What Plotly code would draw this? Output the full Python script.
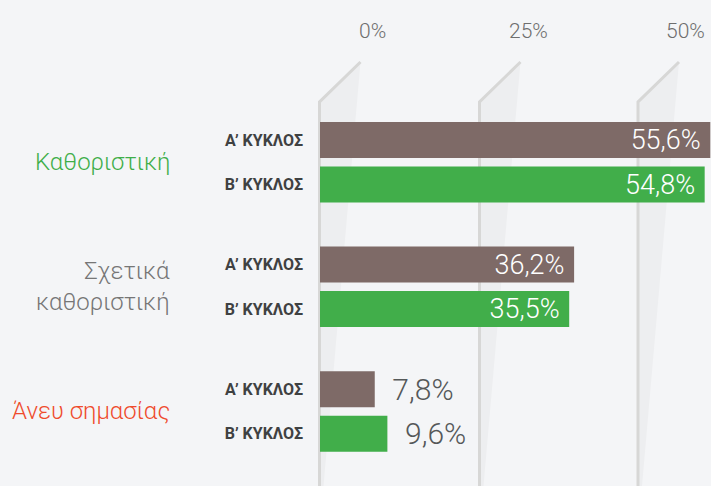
import plotly.graph_objects as go

# data
groups = ["Καθοριστική", "Σχετικά<br>καθοριστική", "Άνευ σημασίας"]
group_colors = ["#3fae49", "#767676", "#ef4b2c"]
rounds = ["Α’ ΚΥΚΛΟΣ", "Β’ ΚΥΚΛΟΣ"]
round_colors = ["#7e6a67", "#41ae4a"]
values_a = [55.6, 36.2, 7.8]
values_b = [54.8, 35.5, 9.6]
tick_labels = ["0%", "25%", "50%"]

W, H = 711, 486
LEFT = 320
GAP = 2.8          # distance between group starts, in row units
PX_PER_ROW = 44.5
y_top = -140 / PX_PER_ROW
y_range = [y_top + H / PX_PER_ROW, y_top]


def px(x):
    return (x - LEFT) / (W - LEFT)


def py(y):
    return 1 - y / H


def fmt(v):
    return "{:.1f}%".format(v).replace(".", ",")


fig = go.Figure()

all_pos, all_ticktext = [], []
for k, (name, vals, col) in enumerate(zip(rounds, [values_a, values_b], round_colors)):
    pos = [g * GAP + k for g in range(len(groups))]
    all_pos += pos
    all_ticktext += ["<b>" + name + "</b>"] * len(pos)
    inside = [v > 20 for v in vals]
    fig.add_trace(go.Bar(
        y=pos, x=vals, orientation="h", width=0.81,
        marker=dict(color=col, line_width=0),
        text=[fmt(v) + "\u00a0" if i else "\u00a0\u00a0" + fmt(v) for v, i in zip(vals, inside)],
        textposition=["inside" if i else "outside" for i in inside],
        insidetextanchor="end",
        insidetextfont=dict(family="Roboto", size=27, color="white", weight=300),
        outsidetextfont=dict(family="Roboto", size=30, color="#555859", weight=300),
        constraintext="none", cliponaxis=False,
        name=name, showlegend=False, hoverinfo="skip",
    ))

# decorative "fence" gridlines
shapes = []
for x0 in [319.5, 479.5, 638]:
    shade = "M {} {} L {} {} L {} {} L {} {} Z".format(
        px(x0 + 1), py(102), px(x0 + 41), py(62), px(x0 + 4), py(486), px(x0 + 1), py(486))
    shapes.append(dict(type="path", path=shade, xref="paper", yref="paper",
                       fillcolor="#edeef0", line_width=0, layer="below"))
    line = "M {} {} L {} {} L {} {}".format(px(x0), py(490), px(x0), py(102), px(x0 + 41), py(62))
    shapes.append(dict(type="path", path=line, xref="paper", yref="paper",
                       line=dict(color="#d7d7d6", width=3), layer="below"))

annotations = []
for lbl, cx in zip(tick_labels, [372, 528, 685]):
    annotations.append(dict(text=lbl, x=px(cx), y=py(31), xref="paper", yref="paper",
                            showarrow=False, xanchor="center", yanchor="middle",
                            font=dict(family="Roboto", size=21, color="#6e6e6e", weight=300)))

for g, (name, col) in enumerate(zip(groups, group_colors)):
    annotations.append(dict(text=name, x=px(172), y=g * GAP + 0.5, xref="paper", yref="y",
                            showarrow=False, xanchor="right", yanchor="middle", align="right",
                            font=dict(family="Roboto", size=24, color=col, weight=300)))

fig.update_layout(
    width=W, height=H,
    margin=dict(l=LEFT, r=0, t=0, b=0),
    paper_bgcolor="#f4f5f7", plot_bgcolor="#f4f5f7",
    barmode="overlay",
    shapes=shapes, annotations=annotations,
    xaxis=dict(range=[0, 55.7], visible=False, fixedrange=True),
    yaxis=dict(range=y_range, tickvals=all_pos, ticktext=all_ticktext,
               showgrid=False, zeroline=False, showline=False, ticks="",
               ticklabelstandoff=16, fixedrange=True,
               tickfont=dict(family="Roboto", size=16, color="#3f4142")),
)

fig.write_html("out.html", config={"displayModeBar": False},
               post_script="document.body.style.margin='0';document.body.style.overflow='hidden';")
